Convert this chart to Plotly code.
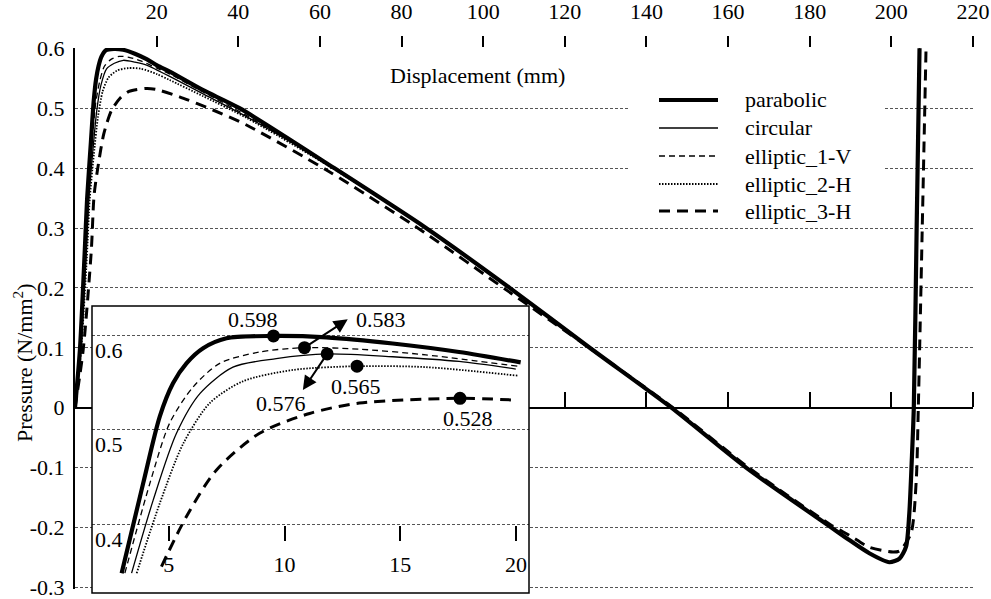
import plotly.graph_objects as go

# ---------------- data ----------------
names = ["parabolic", "circular", "elliptic_1-V", "elliptic_2-H", "elliptic_3-H"]

parabolic_x = [0, 1.2, 2.4, 2.96, 3.89, 4.61, 5.18, 5.76, 6.48, 7.49, 9.52, 11.8, 14.67, 17.54, 20.2,
               23.2, 31.4, 40.3, 63.5, 86.0, 106.5, 126.1, 146.1, 164.4, 185.3, 189.7, 194.6, 199.5,
               202.0, 203.6, 204.4, 205.0, 205.5, 206.2, 206.9]
parabolic_y = [0, 0.096, 0.263, 0.348, 0.443, 0.514, 0.549, 0.570, 0.586, 0.5965, 0.599, 0.5975, 0.591,
               0.582, 0.571, 0.561, 0.530, 0.500, 0.400, 0.300, 0.200, 0.100, 0.000, -0.100, -0.200,
               -0.221, -0.243, -0.258, -0.252, -0.232, -0.176, -0.088, 0.000, 0.302, 0.600]

circular_x = [0, 1.4, 2.7, 3.39, 4.32, 5.33, 6.34, 7.77, 9.64, 11.84, 14.67, 17.54, 19.99, 23.2, 31.4,
              42.0, 63.5, 86.0, 106.5, 126.1, 146.1, 164.4, 185.3, 189.7, 194.6, 199.5, 202.0, 203.6,
              204.4, 205.0, 205.5, 206.2, 206.9]
circular_y = [0, 0.096, 0.250, 0.348, 0.425, 0.496, 0.538, 0.566, 0.575, 0.580, 0.577, 0.572, 0.564,
              0.553, 0.524, 0.486, 0.400, 0.300, 0.200, 0.100, 0.000, -0.100, -0.200, -0.221, -0.243,
              -0.258, -0.252, -0.232, -0.176, -0.088, 0.000, 0.302, 0.600]

elliptic1_x = [0, 1.3, 2.5, 3.10, 4.18, 5.04, 6.05, 7.20, 8.92, 10.86, 13.23, 16.1, 20.06, 23.2, 31.4,
               42.0, 63.5, 86.0, 106.5, 126.1, 146.1, 164.4, 185.3, 189.7, 194.6, 199.5, 202.0, 203.6,
               204.4, 205.0, 205.5, 206.2, 206.9]
elliptic1_y = [0, 0.096, 0.255, 0.348, 0.443, 0.507, 0.545, 0.570, 0.582, 0.5866, 0.585, 0.579, 0.567,
               0.557, 0.527, 0.488, 0.400, 0.300, 0.200, 0.100, 0.000, -0.100, -0.200, -0.221, -0.243,
               -0.258, -0.252, -0.232, -0.176, -0.088, 0.000, 0.302, 0.600]

elliptic2_x = [0, 1.5, 2.9, 3.61, 4.61, 5.62, 6.77, 8.2, 10.36, 13.13, 16.1, 20.06, 23.2, 31.4, 42.0,
               63.5, 86.0, 106.5, 126.1, 146.1, 164.4, 185.3, 189.7, 194.6, 199.5, 202.0, 203.6, 204.4,
               205.0, 205.5, 206.2, 206.9]
elliptic2_y = [0, 0.096, 0.250, 0.348, 0.422, 0.485, 0.528, 0.551, 0.563, 0.567, 0.566, 0.557, 0.547,
               0.520, 0.484, 0.398, 0.300, 0.200, 0.100, 0.000, -0.100, -0.200, -0.221, -0.243, -0.258,
               -0.252, -0.232, -0.176, -0.088, 0.000, 0.302, 0.600]

elliptic3_x = [0, 2.0, 4.0, 4.68, 5.76, 7.05, 8.92, 11.08, 13.23, 17.58, 20.06, 25.6, 33.8, 42.0, 62.3,
               85.5, 106.0, 126.0, 146.5, 165.0, 185.0, 189.7, 194.6, 200.4, 202.0, 204.8, 206.1, 206.6,
               208.5]
elliptic3_y = [0, 0.096, 0.263, 0.355, 0.408, 0.457, 0.496, 0.517, 0.528, 0.533, 0.531, 0.519, 0.497,
               0.472, 0.394, 0.293, 0.195, 0.100, 0.000, -0.100, -0.195, -0.213, -0.233, -0.241, -0.239,
               -0.210, -0.121, 0.000, 0.602]

series_x = [parabolic_x, circular_x, elliptic1_x, elliptic2_x, elliptic3_x]
series_y = [parabolic_y, circular_y, elliptic1_y, elliptic2_y, elliptic3_y]

# first displacement shown in the inset for each curve, and the inset's last displacement
inset_start = [2.96, 3.39, 3.10, 3.61, 4.68]
inset_end = 20.3

peak_labels = ["0.598", "0.576", "0.583", "0.565", "0.528"]

main_xticks = [20, 40, 60, 80, 100, 120, 140, 160, 180, 200, 220]
main_yticks = [-0.3, -0.2, -0.1, 0, 0.1, 0.2, 0.3, 0.4, 0.5, 0.6]
main_yticktext = ["-0.3", "-0.2", "-0.1", "0", "0.1", "0.2", "0.3", "0.4", "0.5", "0.6"]
inset_xticks = [5, 10, 15, 20]
inset_yticks = [0.4, 0.5, 0.6]

# ---------------- styles ----------------
styles = {
    "parabolic": dict(width=4.2, dash="solid"),
    "circular": dict(width=1.3, dash="solid"),
    "elliptic_1-V": dict(width=1.3, dash="6px,4px"),
    "elliptic_2-H": dict(width=1.8, dash="1.5px,1.5px"),
    "elliptic_3-H": dict(width=3.0, dash="11px,7px"),
}
FONT = "Liberation Serif, 'Times New Roman', Times, 'DejaVu Serif', serif"
FS = 22
TXT = dict(family=FONT, size=FS, color="black")

# layout geometry (pixels -> paper)
L, R, T, B = 75, 18, 48, 4
W = 991 - L - R
H = 599 - T - B
PX_PER_UNIT = 599.0  # main chart: pixels per 1.0 of pressure


def pxx(p):
    return (p - L) / W


def pxy(p):
    return (599 - B - p) / H


y_range = [-0.303, 0.6005]
main_ydom = [pxy(48 + (y_range[1] - y_range[0]) * PX_PER_UNIT), 1.0]
zero_pos = main_ydom[0] + (main_ydom[1] - main_ydom[0]) * (0 - y_range[0]) / (y_range[1] - y_range[0])

fig = go.Figure()

order = [4, 3, 2, 1, 0]
# main curves
for i in order:
    st = styles[names[i]]
    fig.add_trace(go.Scatter(x=series_x[i], y=series_y[i], mode="lines", name=names[i],
                             line=dict(color="black", width=st["width"], dash=st["dash"],
                                       shape="spline", smoothing=0.7),
                             xaxis="x", yaxis="y", showlegend=False, hoverinfo="skip"))

# placeholder so the zero-line axis is drawn
fig.add_trace(go.Scatter(x=[None], y=[None], xaxis="x3", yaxis="y", showlegend=False,
                         hoverinfo="skip"))

# inset curves
for i in order:
    st = styles[names[i]]
    xs, ys = [], []
    for xv, yv in zip(series_x[i], series_y[i]):
        if inset_start[i] <= xv <= inset_end:
            xs.append(xv)
            ys.append(yv)
    fig.add_trace(go.Scatter(x=xs, y=ys, mode="lines", name=names[i],
                             line=dict(color="black", width=st["width"], dash=st["dash"],
                                       shape="spline", smoothing=0.8),
                             xaxis="x2", yaxis="y2", showlegend=False, hoverinfo="skip"))

# peak markers
peak_x, peak_y = [], []
for i in range(len(names)):
    best = None
    for xv, yv in zip(series_x[i], series_y[i]):
        if xv <= 50 and (best is None or yv > best[1]):
            best = (xv, yv)
    peak_x.append(best[0])
    peak_y.append(best[1])
fig.add_trace(go.Scatter(x=peak_x, y=peak_y, mode="markers",
                         marker=dict(color="black", size=13),
                         xaxis="x2", yaxis="y2", showlegend=False, hoverinfo="skip"))

annotations = []
# peak labels (text positions in inset data units)
label_pos = [(8.63, 0.6159), (9.86, 0.5277), (14.17, 0.6159), (13.09, 0.5453), (17.94, 0.5118)]
for i, (lx, ly) in enumerate(label_pos):
    annotations.append(dict(x=lx, y=ly, xref="x2", yref="y2", text=peak_labels[i],
                            xanchor="center", yanchor="middle", showarrow=False, font=TXT))
# arrows from the dots to their labels (circular and elliptic_1-V)
arrow_heads = {1: (10.79, 0.5418), 2: (12.73, 0.6166)}
for i, (hx, hy) in arrow_heads.items():
    annotations.append(dict(x=hx, y=hy, xref="x2", yref="y2", ax=peak_x[i], ay=peak_y[i],
                            axref="x2", ayref="y2", text="", showarrow=True, arrowhead=2,
                            arrowsize=1.4, arrowwidth=2, arrowcolor="black", standoff=0,
                            startstandoff=0))

# axis titles
annotations.append(dict(x=pxx(477), y=pxy(75), xref="paper", yref="paper",
                        xanchor="center", yanchor="middle",
                        text="Displacement (mm)", showarrow=False, font=TXT))
annotations.append(dict(x=pxx(23), y=pxy(363), xref="paper", yref="paper",
                        xanchor="center", yanchor="middle",
                        text="Pressure (N/mm<sup>2</sup>)", textangle=-90, showarrow=False,
                        font=TXT))

# legend (drawn by hand to match the original spacing)
shapes = []
shapes.append(dict(type="rect", xref="paper", yref="paper", x0=pxx(628), x1=pxx(883),
                   y0=pxy(224), y1=pxy(86), fillcolor="white", line=dict(width=0), layer="above"))
row_y = [100, 128, 156, 184, 211]
for i, name in enumerate(names):
    st = styles[name]
    shapes.append(dict(type="line", xref="paper", yref="paper", x0=pxx(659), x1=pxx(718),
                       y0=pxy(row_y[i]), y1=pxy(row_y[i]),
                       line=dict(color="black", width=st["width"], dash=st["dash"]), layer="above"))
    annotations.append(dict(x=pxx(743), y=pxy(row_y[i]), xref="paper", yref="paper",
                            xanchor="left", yanchor="middle", text=name, showarrow=False,
                            font=TXT))

# inset border
shapes.append(dict(type="rect", xref="paper", yref="paper", x0=pxx(92), x1=pxx(529),
                   y0=pxy(593), y1=pxy(306), line=dict(color="black", width=1.5),
                   fillcolor="rgba(0,0,0,0)", layer="above"))

grid = dict(showgrid=True, gridcolor="#555555", griddash="3px,2px", gridwidth=1)

fig.update_layout(
    width=991, height=599,
    margin=dict(l=L, r=R, t=T, b=B, autoexpand=False),
    paper_bgcolor="white", plot_bgcolor="white",
    font=TXT,
    showlegend=False,
    xaxis=dict(domain=[0, 1], range=[0, 220], side="top", anchor="y", automargin=False,
               tickmode="array", tickvals=main_xticks, ticks="outside", ticklen=11,
               tickwidth=2, tickcolor="black", showline=False, showgrid=False, zeroline=False,
               ticklabelstandoff=8, tickfont=TXT),
    xaxis3=dict(overlaying="x", anchor="free", position=zero_pos, side="top", range=[0, 220],
                automargin=False,
                tickmode="array", tickvals=main_xticks, ticks="outside", ticklen=15, tickwidth=2,
                tickcolor="black", showticklabels=False, showline=True, linewidth=2,
                linecolor="black", showgrid=False, zeroline=False),
    yaxis=dict(domain=main_ydom, range=y_range, anchor="x", tickmode="array", automargin=False,
               tickvals=main_yticks, ticktext=main_yticktext, ticks="", showline=True,
               linewidth=2, linecolor="black", zeroline=False, ticklabelstandoff=4,
               ticklabeloverflow="allow", tickfont=TXT, **grid),
    xaxis2=dict(domain=[pxx(92), pxx(529)], range=[1.68, 20.56], anchor="free", position=pxy(541),
                automargin=False,
                tickmode="array", tickvals=inset_xticks, ticks="inside", ticklen=15, tickwidth=2,
                tickcolor="black", showline=False, showgrid=False, zeroline=False,
                ticklabelstandoff=8, tickfont=TXT),
    yaxis2=dict(domain=[pxy(593), pxy(306)], range=[0.327, 0.6307], anchor="x2", automargin=False,
                tickmode="array", tickvals=inset_yticks, ticks="", showline=False,
                zeroline=False, ticklabelposition="inside", ticklabelshift=15,
                tickfont=TXT, **grid),
    annotations=annotations,
    shapes=shapes,
)

fig.write_html("out.html", config={"displayModeBar": False},
               post_script="document.body.style.margin='0';")
